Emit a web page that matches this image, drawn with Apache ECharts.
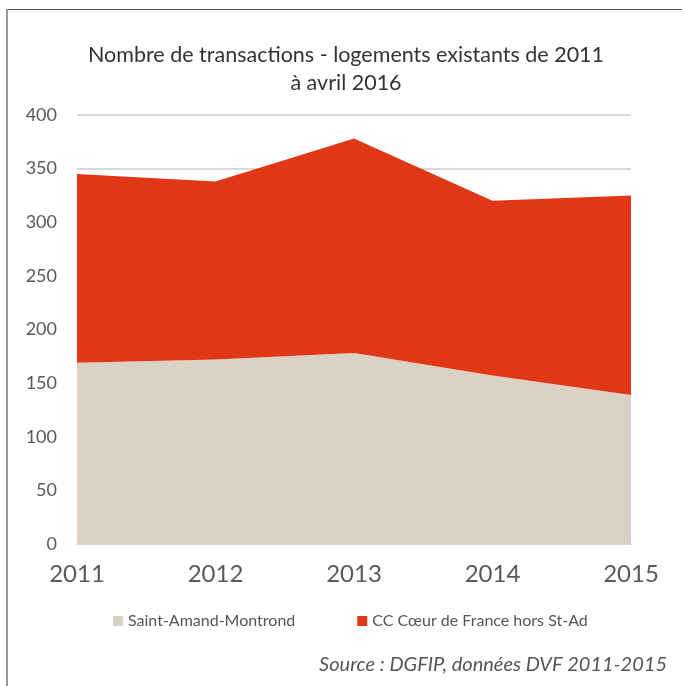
<!DOCTYPE html>
<html>
<head>
<meta charset="utf-8">
<script src="https://cdn.jsdelivr.net/npm/echarts@6/dist/echarts.min.js"></script>
<style>
  html, body { margin: 0; padding: 0; background: #fff; }
  #chart { width: 682px; height: 686px; }
</style>
</head>
<body>
<div id="chart"></div>
<script>
const years = ['2011', '2012', '2013', '2014', '2015']
const saintAmand = [169, 172, 178, 157, 139]
const ccCoeur = [176, 166, 200, 163, 186]
const yTicks = { min: 0, max: 400, interval: 50 }

const chart = echarts.init(document.getElementById('chart'))
const font = 'Lato, "Open Sans", sans-serif'

chart.setOption({
  backgroundColor: '#fff',
  animation: false,
  title: {
    text: 'Nombre de transactions - logements existants de 2011\nà avril 2016',
    left: 341,
    textAlign: 'center',
    top: 36,
    textStyle: {
      color: '#333',
      fontFamily: font,
      fontWeight: 'normal',
      fontSize: 21.5,
      lineHeight: 28,
    },
  },
  legend: {
    bottom: 52,
    left: 108,
    icon: 'rect',
    itemWidth: 10,
    itemHeight: 10,
    itemGap: 62,
    textStyle: { color: '#555', fontFamily: font, fontSize: 16 },
    data: ['Saint-Amand-Montrond', 'CC Cœur de France hors St-Ad'],
  },
  grid: { left: 77, right: 51, top: 115, bottom: 142 },
  xAxis: {
    type: 'category',
    boundaryGap: false,
    data: years,
    axisLine: { show: true, lineStyle: { color: '#d9d9d9', width: 2 } },
    axisTick: { show: false },
    axisLabel: { color: '#595959', fontFamily: font, fontSize: 24, margin: 18 },
  },
  yAxis: {
    type: 'value',
    min: yTicks.min,
    max: yTicks.max,
    interval: yTicks.interval,
    axisLine: { show: false },
    axisTick: { show: false },
    axisLabel: { color: '#595959', fontFamily: font, fontSize: 18, margin: 20 },
    splitLine: { lineStyle: { color: '#d9d9d9', width: 2 } },
  },
  series: [
    {
      name: 'Saint-Amand-Montrond',
      type: 'line',
      stack: 'total',
      symbol: 'none',
      lineStyle: { width: 0 },
      itemStyle: { color: '#dad2c4' },
      areaStyle: { color: '#dad2c4', opacity: 1 },
      data: saintAmand,
    },
    {
      name: 'CC Cœur de France hors St-Ad',
      type: 'line',
      stack: 'total',
      symbol: 'none',
      lineStyle: { width: 0 },
      itemStyle: { color: '#e03817' },
      areaStyle: { color: '#e03817', opacity: 1 },
      data: ccCoeur,
    },
  ],
  graphic: [
    {
      type: 'line',
      shape: { x1: 6, y1: 9.5, x2: 682, y2: 9.5 },
      style: { stroke: '#555', lineWidth: 1 },
    },
    {
      type: 'line',
      shape: { x1: 7, y1: 9, x2: 7, y2: 686 },
      style: { stroke: '#999', lineWidth: 2 },
    },
    {
      type: 'text',
      right: 15,
      top: 655,
      style: {
        text: 'Source : DGFIP, données DVF 2011-2015',
        fill: '#555',
        font: 'italic 20px Lato, "Open Sans", sans-serif',
      },
    },
  ],
})
</script>
</body>
</html>
